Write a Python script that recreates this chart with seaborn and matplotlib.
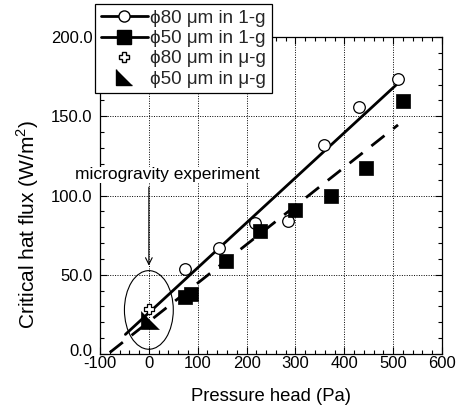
import numpy as np
import pandas as pd
import matplotlib
matplotlib.use("Agg")
import matplotlib.pyplot as plt
import matplotlib.transforms as mtransforms
import seaborn as sns
from matplotlib.patches import Ellipse
from matplotlib.lines import Line2D
from matplotlib.ticker import MultipleLocator

# ---- data ----
p80_1g = [73, 143, 217, 285, 358, 431, 509]
f80_1g = [53.4, 67.0, 82.8, 84.0, 132.0, 155.6, 173.5]
p50_1g = [73, 86, 158, 228, 299, 372, 444, 521]
f50_1g = [35.8, 37.7, 58.7, 77.6, 90.9, 99.7, 117.5, 159.6]
p80_mg = [0]
f80_mg = [28.4]
p50_mg = [2]
f50_mg = [21.5]
# linear fits: slope, intercept, x-range
fit80 = {"slope": 0.284, "intercept": 26.0, "x": [-48, 509]}
fit50 = {"slope": 0.2434, "intercept": 20.4, "x": [-80, 510]}

labels = ["ϕ80 μm in 1-g", "ϕ50 μm in 1-g", "ϕ80 μm in μ-g", "ϕ50 μm in μ-g"]
xticks = [-100, 0, 100, 200, 300, 400, 500, 600]
yticks = [0, 50, 100, 150, 200]

sns.set_theme(style="ticks")
plt.rcParams["font.family"] = ["Liberation Sans", "DejaVu Sans"]
plt.rcParams["mathtext.fontset"] = "custom"
plt.rcParams["mathtext.rm"] = "Liberation Sans"
plt.rcParams["axes.unicode_minus"] = False

fig = plt.figure(figsize=(4.65, 4.16), dpi=100)
ax = fig.add_axes([100 / 465, 1 - 354 / 416, 342 / 465, 317 / 416])

tri = [(-1, 1), (-1, -1), (1, -1)]

def fitdf(fit):
    x = np.array(fit["x"], dtype=float)
    return pd.DataFrame({"x": x, "y": fit["intercept"] + fit["slope"] * x})

d80 = fitdf(fit80)
d50 = fitdf(fit50)
sns.lineplot(data=d80, x="x", y="y", ax=ax, color="black", lw=2.0, zorder=3)
sns.lineplot(data=d50, x="x", y="y", ax=ax, color="black", lw=2.0, zorder=3)
ax.lines[-1].set_dashes([6, 4])

sns.scatterplot(x=p80_1g, y=f80_1g, ax=ax, marker="o", s=70, facecolor="white",
                edgecolor="black", linewidth=0.9, zorder=4)
sns.scatterplot(x=p50_1g, y=f50_1g, ax=ax, marker="s", s=110, color="black",
                edgecolor="black", linewidth=0.5, zorder=4)
sns.scatterplot(x=p80_mg, y=f80_mg, ax=ax, marker="P", s=45, facecolor="white",
                edgecolor="black", linewidth=0.9, zorder=5)
sns.scatterplot(x=p50_mg, y=f50_mg, ax=ax, marker=tri, s=150, color="black",
                edgecolor="black", linewidth=0.5, zorder=5)

ax.add_patch(Ellipse((0, 27.8), 100, 49.6, fill=False, edgecolor="black", lw=0.8, zorder=3))

ax.set_xlim(-100, 600)
ax.set_ylim(0, 200)
ax.set_xticks(xticks)
ax.set_yticks(yticks)
ax.set_yticklabels([f"{v:.1f}" for v in yticks])
ax.xaxis.set_minor_locator(MultipleLocator(20))
ax.yaxis.set_minor_locator(MultipleLocator(10))
ax.tick_params(which="both", direction="in", top=True, right=True, color="black",
               width=0.8, labelsize=12, labelcolor="black")
ax.tick_params(which="major", length=5)
ax.tick_params(which="minor", length=3)
ax.tick_params(axis="y", which="major", pad=5.5)
ax.tick_params(axis="x", which="major", pad=1.5)
ax.grid(True, which="major", linestyle=(0, (1, 1.5)), color="black", lw=0.7)
for s in ax.spines.values():
    s.set_color("black")
    s.set_linewidth(0.9)

# lift the "0.0" label slightly so it clears the "-100" label
lbl0 = ax.get_yticklabels()[0]
lbl0.set_transform(lbl0.get_transform() +
                   mtransforms.ScaledTranslation(0, 4 / 100, fig.dpi_scale_trans))

ax.set_xlabel("Pressure head (Pa)", fontsize=13.3, color="black", labelpad=12)
ax.set_ylabel("Critical hat flux (W/m$^2$)", fontsize=15, color="black")
ax.yaxis.set_label_coords(-0.172, 0.41)

ax.text(38, 113, "microgravity experiment", ha="center", va="center", fontsize=12.5,
        color="black", clip_on=False, zorder=6,
        bbox=dict(facecolor="white", edgecolor="none", pad=0.5))
ax.annotate("", xy=(0, 54), xytext=(0, 107),
            arrowprops=dict(arrowstyle="->", color="black", lw=0.8, mutation_scale=12),
            zorder=6)

handles = [
    Line2D([], [], color="black", lw=2, marker="o", markersize=8, markerfacecolor="white",
           markeredgecolor="black"),
    Line2D([], [], color="black", lw=2, marker="s", markersize=9.5, markerfacecolor="black"),
    Line2D([], [], lw=0, marker="P", markersize=7, markerfacecolor="white",
           markeredgecolor="black"),
    Line2D([], [], lw=0, marker=tri, markersize=11, markerfacecolor="black",
           markeredgecolor="black"),
]
leg = fig.legend(handles, labels, loc="upper left", bbox_to_anchor=(95 / 465, 1 - 4 / 416),
                 fontsize=13.5, frameon=True, fancybox=False, framealpha=1,
                 edgecolor="black", handlelength=2.5, handletextpad=0.15,
                 labelspacing=0.17, borderpad=0.3, borderaxespad=0)
leg.get_frame().set_linewidth(0.9)
leg.set_zorder(10)

fig.savefig("out.png", dpi=100)
